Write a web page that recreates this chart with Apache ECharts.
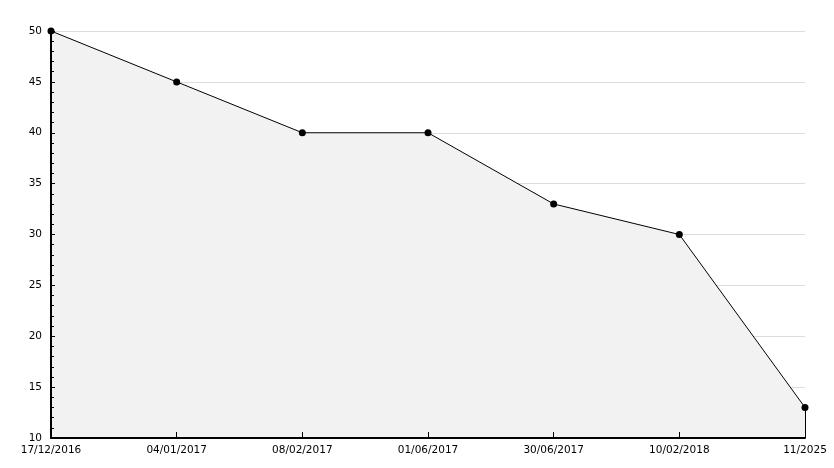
<!DOCTYPE html>
<html><head><meta charset="utf-8">
<script src="https://cdn.jsdelivr.net/npm/echarts@6/dist/echarts.min.js"></script>
<style>html,body{margin:0;padding:0;background:#fff}#c{width:834px;height:468px}</style>
</head><body><div id="c"></div>
<script>
const categories = ['17/12/2016','04/01/2017','08/02/2017','01/06/2017','30/06/2017','10/02/2018','11/2025'];
const values = [50, 45, 40, 40, 33, 30, 13];
const yMin = 10, yMax = 50, yStep = 5;

const chart = echarts.init(document.getElementById('c'), null, {renderer: 'canvas'});
const font = 'DejaVu Sans';
chart.setOption({
  animation: false,
  backgroundColor: '#ffffff',
  grid: {left: 51, right: 29, top: 31, bottom: 30, containLabel: false},
  xAxis: {
    type: 'category', data: categories, boundaryGap: false, zlevel: 2, z: 5,
    axisLine: {lineStyle: {color: '#000', width: 2}},
    axisTick: {inside: true, length: 6, lineStyle: {color: '#000'}},
    axisLabel: {color: '#000', fontFamily: font, fontSize: 10.5, margin: 7, interval: 0},
    splitLine: {show: false}
  },
  yAxis: [{
    type: 'value', min: yMin, max: yMax, interval: yStep, zlevel: 0, z: 0,
    axisLine: {show: false}, axisTick: {show: false}, axisLabel: {show: false},
    splitLine: {show: true, lineStyle: {color: '#dcdcdc', width: 1}}
  }, {
    type: 'value', position: 'left', offset: 0, min: yMin, max: yMax, interval: yStep, zlevel: 2, z: 5,
    axisLine: {show: true, lineStyle: {color: '#000', width: 2}},
    axisTick: {show: true, inside: true, length: 4, lineStyle: {color: '#000'}},
    minorTick: {show: true, splitNumber: 5, length: 3, lineStyle: {color: '#000'}},
    axisLabel: {color: '#000', fontFamily: font, fontSize: 10.5, margin: 9},
    splitLine: {show: false}
  }],
  series: [{
    type: 'line', data: values, zlevel: 1, z: 2, yAxisIndex: 0,
    lineStyle: {color: '#000', width: 1},
    areaStyle: {color: '#f2f2f2', opacity: 1},
    symbol: 'circle', symbolSize: 7,
    itemStyle: {color: '#000'},
    markLine: {
      silent: true, symbol: 'none', label: {show: false},
      lineStyle: {color: '#000', type: 'solid', width: 1},
      data: [[{coord: [categories[categories.length-1], yMin]}, {coord: [categories[categories.length-1], values[values.length-1]]}]]
    }
  }]
});
</script></body></html>
